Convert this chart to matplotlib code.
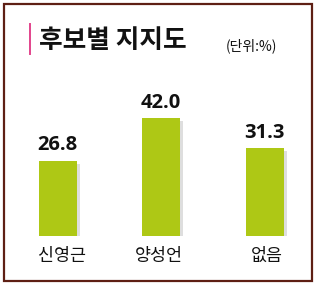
import matplotlib.pyplot as plt
import matplotlib.transforms as mtransforms
from matplotlib.patches import Rectangle
from matplotlib.lines import Line2D

categories = ['신영근', '양성언', '없음']
values = [26.8, 42.0, 31.3]
title = '후보별 지지도'
unit = '(단위:%)'

W, H = 315, 285
fig = plt.figure(figsize=(W / 100, H / 100), dpi=100)
fig.patch.set_facecolor('white')

# frame around the whole chart
fig.add_artist(Rectangle((3.5 / W, 4 / H), 308.5 / W, 277.5 / H,
                         transform=fig.transFigure, fill=False,
                         edgecolor='#5e1f14', linewidth=1.6))
fig.add_artist(Line2D([29.5 / W, 29.5 / W], [1 - 24 / H, 1 - 54 / H],
                      transform=fig.transFigure, color='#e2448c', linewidth=1.4))
fig.text(39 / W, 1 - 40 / H, title, fontsize=18.5, fontweight='bold',
         family=['Noto Sans CJK KR', 'DejaVu Sans'], va='center', ha='left',
         color='#111111')
fig.text(226 / W, 1 - 46 / H, unit, fontsize=10,
         family=['Noto Sans CJK KR', 'DejaVu Sans'], va='center', ha='left',
         color='#111111')

base = 49
ax = fig.add_axes([0, base / H, 1, 1 - base / H])
ax.set_axis_off()
ppu = 2.8
ax.set_ylim(0, (H - base) / ppu)
step = 103.5
ax.set_xlim(-57.5 / step, (W - 57.5) / step)

x = list(range(len(categories)))
bw = 38 / step
shadow = ax.transData + mtransforms.ScaledTranslation(3 / 100, -3 / 100, fig.dpi_scale_trans)
ax.bar(x, values, width=bw, color='#dedede', transform=shadow, zorder=1)
ax.bar(x, values, width=bw, color='#aec815', zorder=2)

for xi, v in zip(x, values):
    ax.annotate(f'{v:.1f}', (xi, v), xytext=(0, 4), textcoords='offset points',
                ha='center', va='bottom', fontsize=14.5, fontweight='bold',
                family='Open Sans', color='#111111')

label_x = [62, 159, 267]
for lx, c in zip(label_x, categories):
    fig.text(lx / W, 1 - 256 / H, c, fontsize=12.5,
             family=['Noto Sans CJK KR', 'DejaVu Sans'],
             ha='center', va='center', color='#111111')

fig.savefig('out.png', dpi=100)
